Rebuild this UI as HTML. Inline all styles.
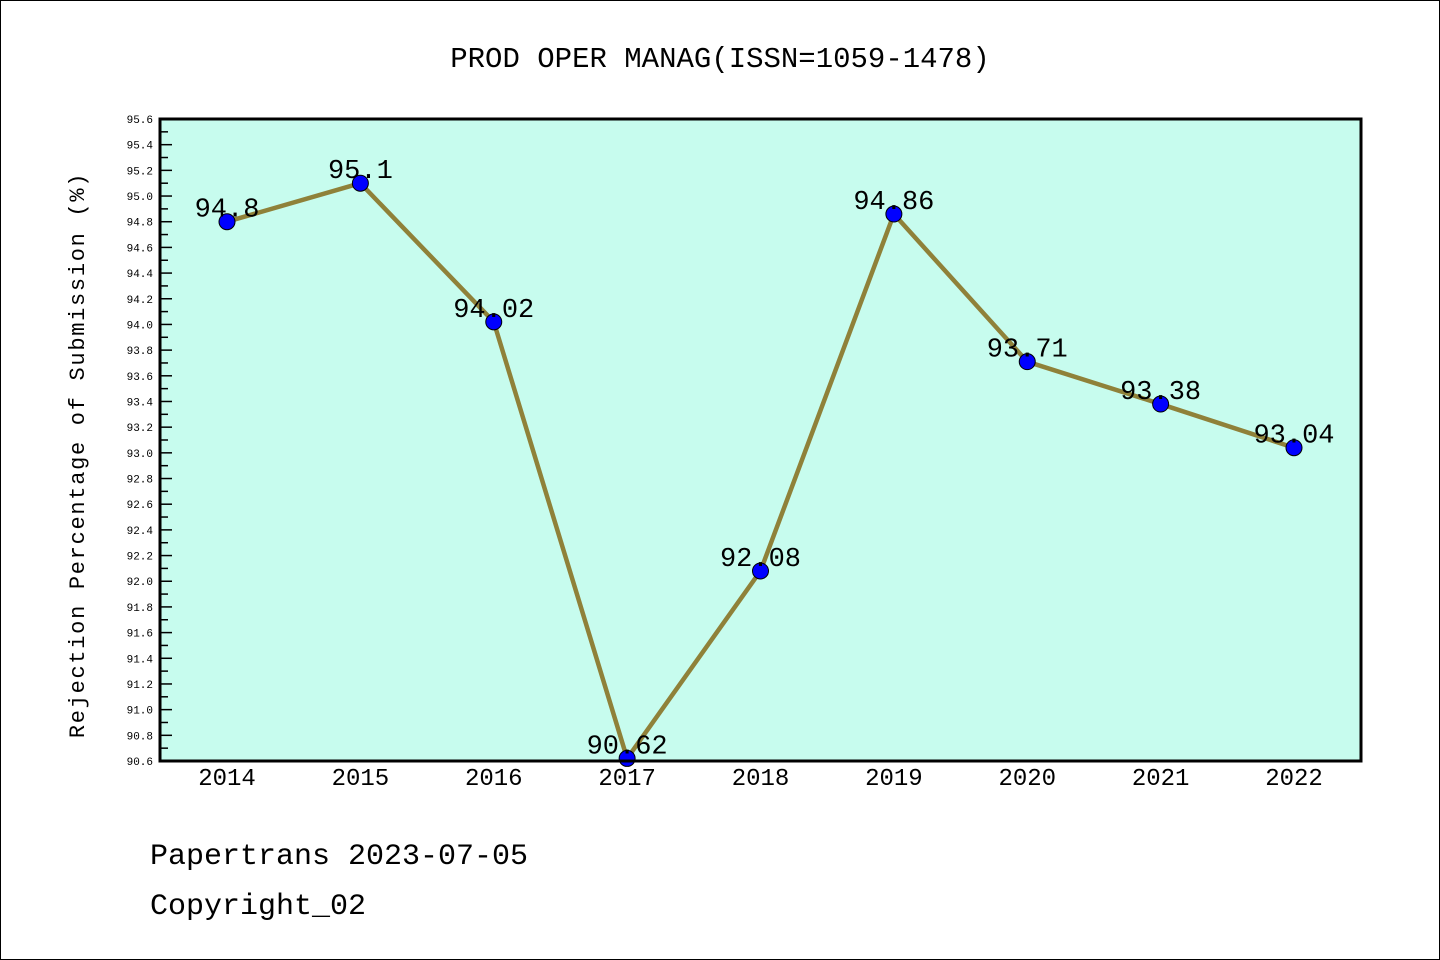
<!DOCTYPE html>
<html><head><meta charset="utf-8"><style>
html,body{margin:0;padding:0;background:#fff}
svg{display:block}
text{font-family:"WenQuanYi Zen Hei Mono","Liberation Mono",monospace}
</style></head><body>
<svg id="chart" width="1440" height="960">
<rect x="0.5" y="0.5" width="1439" height="959" fill="#fff" stroke="#000"/>
<text x="720" y="67" text-anchor="middle" font-size="29">PROD OPER MANAG(ISSN=1059-1478)</text>
<rect x="160" y="119" width="1201" height="642" fill="#c7fcee"/>
<g id="ticks"></g>
<g id="series"></g>
<rect x="160" y="119" width="1201" height="642" fill="none" stroke="#000" stroke-width="3"/>
<text transform="translate(84,455) rotate(-90)" text-anchor="middle" font-size="22" letter-spacing="1.7">Rejection Percentage of Submission (%)</text>
<text x="150" y="864" font-size="30">Papertrans 2023-07-05</text>
<text x="150" y="914" font-size="30">Copyright_02</text>
</svg>
<script>
const years=["2014","2015","2016","2017","2018","2019","2020","2021","2022"];
const values=[94.8,95.1,94.02,90.62,92.08,94.86,93.71,93.38,93.04];
const labels=["94.8","95.1","94.02","90.62","92.08","94.86","93.71","93.38","93.04"];
const yMin=90.6,yMax=95.6;
const NS="http://www.w3.org/2000/svg";
const L=160,R=1361,T=119,B=761;
const x=i=>227+i*(1294-227)/(years.length-1);
const y=v=>B-(v-yMin)/(yMax-yMin)*(B-T);
function mk(t,a,p){const e=document.createElementNS(NS,t);for(const k in a)e.setAttribute(k,a[k]);p.appendChild(e);return e;}
const tg=document.getElementById('ticks'),sg=document.getElementById('series');
for(let k=0;k<=50;k++){
 const v=yMin+k*0.1,yy=y(v),major=k%2===0;
 const t=mk('line',{x1:L,x2:L+(major?12:8),y1:yy,y2:yy,stroke:'#000','stroke-width':1.5},tg);
 
 
 if(major){const lb=mk('text',{x:153,y:yy+4,'text-anchor':'end','font-size':11},tg);lb.textContent=v.toFixed(1);
 
 }
}
years.forEach((yr,i)=>{const t=mk('text',{x:x(i),y:785,'text-anchor':'middle','font-size':24},tg);t.textContent=yr;
 
 });
const pl=mk('polyline',{points:values.map((v,i)=>x(i)+','+y(v)).join(' '),fill:'none',stroke:'#8f8139','stroke-width':4.5,'stroke-linejoin':'round'},sg);


values.forEach((v,i)=>{
 const c=mk('circle',{cx:x(i),cy:y(v),r:8,fill:'#0000ff',stroke:'#000','stroke-width':1},sg);
 
 
 const t=mk('text',{x:x(i),y:y(v)-5,'text-anchor':'middle','font-size':27},sg);t.textContent=labels[i];
 
 
});
</script>
</body></html>
